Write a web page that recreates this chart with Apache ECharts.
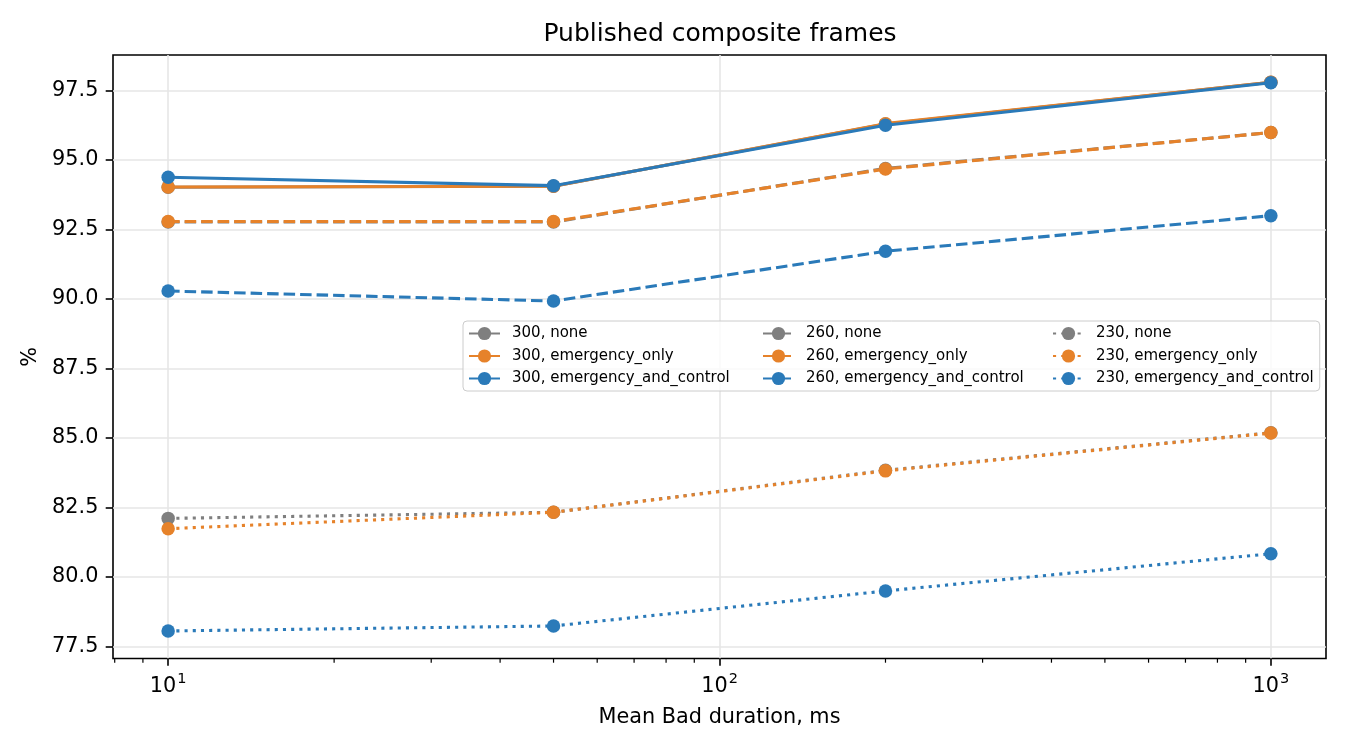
<!DOCTYPE html>
<html>
<head>
<meta charset="utf-8">
<script src="https://cdn.jsdelivr.net/npm/echarts@6/dist/echarts.min.js"></script>
<style>
html,body{margin:0;padding:0;background:#fff;}
#chart{width:1350px;height:750px;}
</style>
</head>
<body>
<div id="chart"></div>
<script>
// ---- data ----
const durations = [10, 50, 200, 1000];
const s300_none = [94.02, 94.06, 96.30, 97.80];
const s300_emergency_only = [94.03, 94.06, 96.31, 97.80];
const s300_emergency_and_control = [94.38, 94.08, 96.25, 97.78];
const s260_none = [92.77, 92.77, 94.70, 95.99];
const s260_emergency_only = [92.79, 92.79, 94.68, 95.99];
const s260_emergency_and_control = [90.29, 89.93, 91.72, 93.00];
const s230_none = [82.11, 82.33, 83.84, 85.19];
const s230_emergency_only = [81.74, 82.33, 83.82, 85.18];
const s230_emergency_and_control = [78.06, 78.24, 79.50, 80.84];

const xMajorTicks = [10, 100, 1000];
const xMinorTicks = [8, 9, 20, 30, 40, 50, 60, 70, 80, 90, 200, 300, 400, 500, 600, 700, 800, 900];
const yTicks = [77.5, 80.0, 82.5, 85.0, 87.5, 90.0, 92.5, 95.0, 97.5];
const X_MIN = 7.943, X_MAX = 1258.9;
const Y_MIN = 77.07, Y_MAX = 98.78;

const GREY = '#7f7f7f', ORANGE = '#e6822a', BLUE = '#2a7ab9';
const SOLID = 'solid', DASHED = [11.5, 5.0], DOTTED = [3.1, 5.1];
const FONT = 'DejaVu Sans';

const seriesDefs = [
  ['300, none', s300_none, GREY, SOLID],
  ['300, emergency_only', s300_emergency_only, ORANGE, SOLID],
  ['300, emergency_and_control', s300_emergency_and_control, BLUE, SOLID],
  ['260, none', s260_none, GREY, DASHED],
  ['260, emergency_only', s260_emergency_only, ORANGE, DASHED],
  ['260, emergency_and_control', s260_emergency_and_control, BLUE, DASHED],
  ['230, none', s230_none, GREY, DOTTED],
  ['230, emergency_only', s230_emergency_only, ORANGE, DOTTED],
  ['230, emergency_and_control', s230_emergency_and_control, BLUE, DOTTED]
];

const lineSeries = seriesDefs.map(function (d, i) {
  return {
    name: d[0],
    type: 'line',
    data: durations.map(function (x, j) { return [x, d[1][j]]; }),
    symbol: 'circle',
    symbolSize: 13.5,
    showSymbol: true,
    color: d[2],
    itemStyle: { color: d[2], borderWidth: 0 },
    lineStyle: { color: d[2], width: 3.1, type: d[3], cap: 'butt' },
    emphasis: { disabled: true },
    z: 2 + i * 0.01,
    animation: false
  };
});

const minorTickSeries = {
  type: 'custom',
  silent: true,
  clip: false,
  z: 10,
  data: xMinorTicks.map(function (v) { return [v, Y_MIN]; }),
  renderItem: function (params, api) {
    const p = api.coord([api.value(0), api.value(1)]);
    return {
      type: 'line',
      shape: { x1: p[0], y1: p[1], x2: p[0], y2: p[1] + 4.2 },
      style: { stroke: '#000', lineWidth: 1.2 }
    };
  },
  animation: false
};

const legendCommon = {
  orient: 'vertical',
  itemWidth: 31,
  itemHeight: 16.5,
  itemGap: 7.5,
  selectedMode: false,
  textStyle: { fontFamily: FONT, fontSize: 15, color: '#000', lineHeight: 15, padding: [0, 0, 0, 7] }
};

const option = {
  animation: false,
  backgroundColor: '#fff',
  textStyle: { fontFamily: FONT },
  title: {
    text: 'Published composite frames',
    left: 720,
    textAlign: 'center',
    top: 22,
    padding: 0,
    textStyle: { fontFamily: FONT, fontSize: 25, fontWeight: 'normal', color: '#000' }
  },
  grid: {
    left: 113, right: 24, top: 55, bottom: 91.5,
    show: true, borderColor: '#000', borderWidth: 1.6, backgroundColor: 'transparent',
    containLabel: false
  },
  legend: [
    Object.assign({}, legendCommon, {
      left: 463, top: 321,
      padding: [5, 590, 5, 5],
      backgroundColor: 'rgba(255,255,255,0.8)',
      borderColor: '#cccccc', borderWidth: 1, borderRadius: 4,
      data: ['300, none', '300, emergency_only', '300, emergency_and_control']
    }),
    Object.assign({}, legendCommon, {
      left: 762, top: 326, padding: 0,
      data: ['260, none', '260, emergency_only', '260, emergency_and_control']
    }),
    Object.assign({}, legendCommon, {
      left: 1052, top: 326, padding: 0,
      data: ['230, none', '230, emergency_only', '230, emergency_and_control']
    })
  ],
  xAxis: {
    type: 'log',
    logBase: 10,
    min: X_MIN,
    max: X_MAX,
    name: 'Mean Bad duration, ms',
    nameLocation: 'middle',
    nameGap: 49,
    nameTextStyle: { fontFamily: FONT, fontSize: 20.8, color: '#000' },
    axisLine: { show: false },
    axisTick: { show: true, customValues: xMajorTicks, length: 7.3, inside: false, lineStyle: { color: '#000', width: 1.6 } },
    axisLabel: {
      customValues: xMajorTicks,
      margin: 13,
      color: '#000',
      formatter: function (v) {
        const e = Math.round(Math.log10(v));
        return '{b|10}{s|' + e + '}';
      },
      rich: {
        b: { fontFamily: FONT, fontSize: 20.8, color: '#000', lineHeight: 26, verticalAlign: 'bottom' },
        s: { fontFamily: FONT, fontSize: 14.5, color: '#000', lineHeight: 26, verticalAlign: 'top', padding: [0, 0, 0, 1] }
      }
    },
    splitLine: { show: true, lineStyle: { color: '#e6e6e6', width: 1.6 } },
    minorTick: { show: false },
    minorSplitLine: { show: false }
  },
  yAxis: {
    type: 'value',
    min: Y_MIN,
    max: Y_MAX,
    name: '%',
    nameLocation: 'middle',
    nameGap: 70,
    nameRotate: 90,
    nameTextStyle: { fontFamily: FONT, fontSize: 20.8, color: '#000' },
    axisLine: { show: false },
    axisTick: { show: true, customValues: yTicks, length: 7.3, inside: false, lineStyle: { color: '#000', width: 1.6 } },
    axisLabel: {
      customValues: yTicks,
      margin: 14.6,
      fontFamily: FONT, fontSize: 20.8, color: '#000',
      formatter: function (v) { return v.toFixed(1); }
    },
    splitLine: { show: true, lineStyle: { color: '#e6e6e6', width: 1.6 } }
  },
  series: lineSeries.concat([minorTickSeries])
};

const chart = echarts.init(document.getElementById('chart'), null, { renderer: 'canvas', width: 1350, height: 750 });
chart.setOption(option);
</script>
</body>
</html>
